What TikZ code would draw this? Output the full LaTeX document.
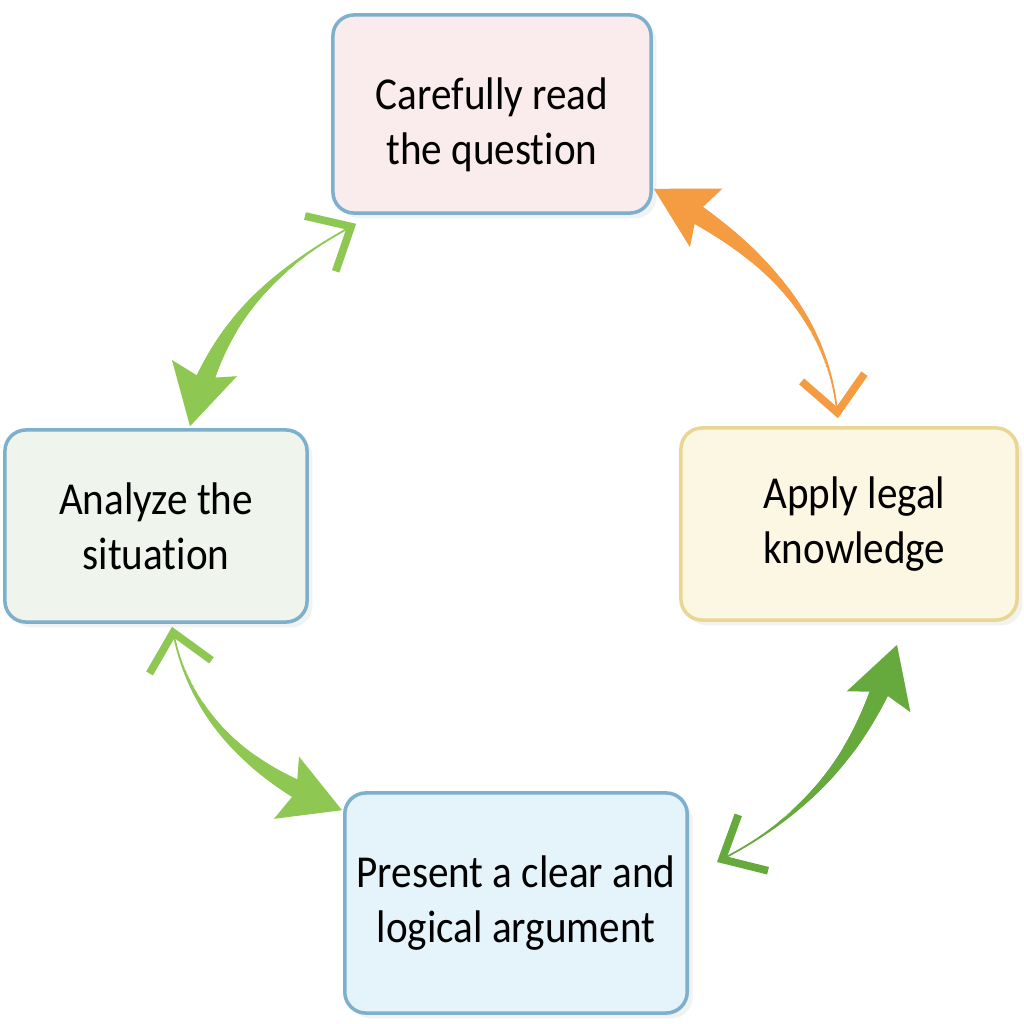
\documentclass[tikz,border=0pt]{standalone}
\usepackage{fontspec}
\setmainfont{Carlito}[FakeStretch=0.9, Ligatures=NoCommon]
\usepackage{tikz}
\usetikzlibrary{positioning, arrows.meta, decorations.markings, shadows}

\definecolor{qfill}{RGB}{250,236,236}
\definecolor{anfill}{RGB}{239,244,236}
\definecolor{apfill}{RGB}{252,247,226}
\definecolor{arfill}{RGB}{229,244,250}
\definecolor{blueline}{RGB}{124,176,204}
\definecolor{yellowline}{RGB}{232,214,146}
\definecolor{lightgreen}{RGB}{142,200,82}
\definecolor{darkgreen}{RGB}{102,170,62}
\definecolor{orangearrow}{RGB}{245,155,66}

\begin{document}
\begin{tikzpicture}[
            x=0.01cm, y=0.01cm,
            box/.style={draw=#1, line width=1pt, rounded corners=6pt, align=center,
                font=\fontsize{13}{15.6}\selectfont,
                drop shadow={shadow xshift=1.5pt, shadow yshift=-1.5pt, opacity=0.10}},
            link/.style={draw=#1, line width=0.5pt},
            taper/.style={postaction={decorate, decoration={markings,
                mark=between positions 0.04 and 0.86 step 0.4pt with {\fill[#1] (0,0) circle
                ({3.6pt*(\pgfkeysvalueof{/pgf/decoration/mark info/distance from start}/\pgfdecoratedpathlength)^1.6});}}}},
            barbtip/.tip={Straight Barb[length=10pt, width=18pt, line width=2.2pt]},
            bighead/.tip={Stealth[length=17pt, width=19pt, inset=3pt]}
        ]
        \fill[white] (0,0) rectangle (1024,-1024);
        % Steps
        \node[box=blueline, fill=qfill, minimum width=3.18cm, minimum height=1.98cm, text height=31pt] (q) at (492,-114) {Carefully read\\the question};
        \node[box=blueline, fill=anfill, minimum width=3.02cm, minimum height=1.92cm] (an) at (156,-526) {Analyze the\\situation};
        \node[box=yellowline, fill=apfill, minimum width=3.36cm, minimum height=1.92cm] (ap) at (849,-524) {\hspace*{3pt}Apply legal\\\hspace*{3pt}knowledge};
        \node[box=blueline, fill=arfill, minimum width=3.35cm, minimum height=2.20cm] (ar) at (516,-903) {Present a clear and\\logical argument};
        % Arrows between the steps
        \draw[link=lightgreen, barbtip-bighead, taper=lightgreen]
            ([shift={(25,-9)}]q.south west) to[out=209, in=76] ([shift={(34,2)}]an.north);
        \draw[link=orangearrow, barbtip-bighead, taper=orangearrow]
            ([shift={(-11,8)}]ap.north) to[out=97, in=-29] ([shift={(1,26)}]q.south east);
        \draw[link=lightgreen, barbtip-bighead, taper=lightgreen]
            ([shift={(16,-3)}]an.south) to[out=282, in=158] ([shift={(-1,-19)}]ar.north west);
        \draw[link=darkgreen, barbtip-bighead, taper=darkgreen]
            ([shift={(28,41)}]ar.east) to[out=28, in=252] ([shift={(48,-23)}]ap.south);
        \useasboundingbox (0,0) rectangle (1024,-1024);
        \end{tikzpicture}
\end{document}
